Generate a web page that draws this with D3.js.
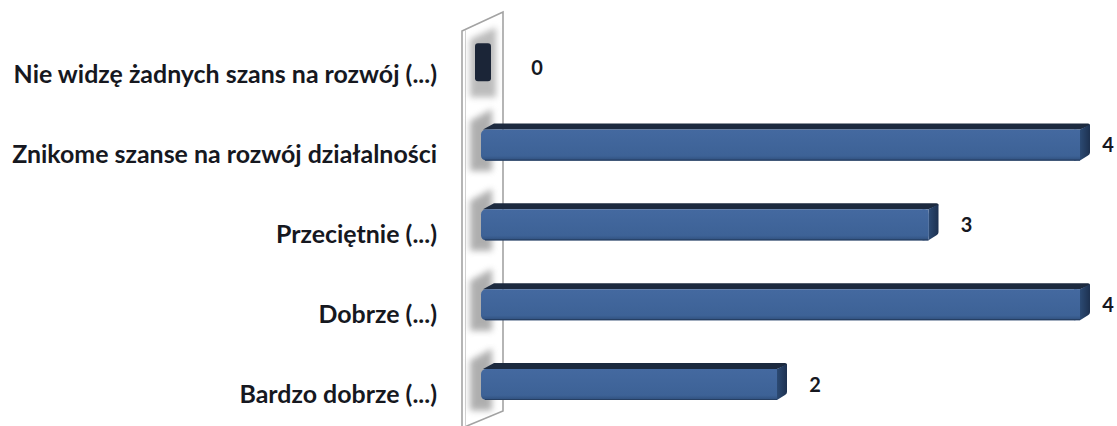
<!DOCTYPE html>
<html><head><meta charset="utf-8">
<script src="https://cdn.jsdelivr.net/npm/d3@7/dist/d3.min.js"></script>
<style>
html,body{margin:0;padding:0;background:#fff;}
svg{display:block;}
text{font-family:Lato,"Open Sans",sans-serif;font-weight:700;fill:#16181f;}
</style></head>
<body>
<svg id="chart" width="1117" height="426"></svg>
<script>
const categories = [
  "Nie widzę żadnych szans na rozwój (...)",
  "Znikome szanse na rozwój działalności",
  "Przeciętnie (...)",
  "Dobrze (...)",
  "Bardzo dobrze (...)"
];
const values = [0, 4, 3, 4, 2];
const valueLabels = ["0", "4", "3", "4", "2"];

const svg = d3.select("#chart");

const x = d3.scaleLinear().domain([0, 4]).range([474, 1080]);
const y = d3.scalePoint().domain(categories).range([65.2, 384.5]);

const defs = svg.append("defs");
defs.append("filter").attr("id", "blur").attr("x", "-100%").attr("y", "-50%")
  .attr("width", "300%").attr("height", "200%")
  .append("feGaussianBlur").attr("stdDeviation", 3);
const sideGrad = defs.append("linearGradient").attr("id", "side")
  .attr("x1", 0).attr("y1", 0).attr("x2", 1).attr("y2", 0);
sideGrad.append("stop").attr("offset", "0%").attr("stop-color", "#2c4a73");
sideGrad.append("stop").attr("offset", "100%").attr("stop-color", "#1d3150");
const frontGrad = defs.append("linearGradient").attr("id", "front")
  .attr("x1", 0).attr("y1", 0).attr("x2", 0).attr("y2", 1);
frontGrad.append("stop").attr("offset", "0%").attr("stop-color", "#4469a0");
frontGrad.append("stop").attr("offset", "85%").attr("stop-color", "#3d6296");
frontGrad.append("stop").attr("offset", "100%").attr("stop-color", "#2f4f7c");

// Wall (thin 3D back panel)
const wall = svg.append("g");
wall.append("polygon")
  .attr("points", "462,31 503,12 503,411 462,428")
  .attr("fill", "#ffffff").attr("stroke", "#a3a3a3").attr("stroke-width", 1.6);
wall.append("line").attr("x1", 465.5).attr("y1", 30).attr("x2", 465.5).attr("y2", 428)
  .attr("stroke", "#d0d0d0").attr("stroke-width", 1);

// Shadows on the wall
categories.forEach((c, i) => {
  const yc = y(c);
  const zero = values[i] === 0;
  const l = 470, r = zero ? 496 : 492;
  const top = zero ? yc - 38 : yc - 36;
  const bot = zero ? yc + 32 : yc + 26;
  svg.append("polygon")
    .attr("points", `${l},${top + 12} ${r},${top} ${r},${bot} ${l},${bot}`)
    .attr("fill", "#7a7a7a").attr("opacity", zero ? 0.5 : 0.6)
    .attr("filter", "url(#blur)");
});

const FH = 15.5, DX = 10, DY = 6;
const bars = svg.append("g");
categories.forEach((c, i) => {
  const v = values[i];
  const yc = y(c);
  const x0 = x(0) + 7;
  const x1 = x(v);
  if (v === 0) {
    bars.append("rect")
      .attr("x", x(0) + 1).attr("y", yc - 22).attr("width", 16).attr("height", 38)
      .attr("rx", 3).attr("fill", "#1b2537");
    return;
  }
  // top face
  bars.append("path")
    .attr("d", `M${x0 + 2},${yc - FH} L${x0 + DX + 3},${yc - FH - DY} L${x1 + DX - 2},${yc - FH - DY} Q${x1 + DX},${yc - FH - DY} ${x1 + DX},${yc - FH - DY + 2} L${x1},${yc - FH} Z`)
    .attr("fill", "#1c2a3f");
  // side face
  bars.append("path")
    .attr("d", `M${x1},${yc - FH} L${x1 + DX},${yc - FH - DY + 1} L${x1 + DX},${yc + FH - DY - 2} Q${x1 + DX},${yc + FH - DY} ${x1 + DX - 2},${yc + FH - DY + 1} L${x1},${yc + FH} Z`)
    .attr("fill", "url(#side)");
  // front face
  bars.append("rect")
    .attr("x", x0).attr("y", yc - FH).attr("width", x1 - x0).attr("height", FH * 2)
    .attr("rx", 5).attr("fill", "url(#front)");
  bars.append("rect")
    .attr("x", x1 - 6).attr("y", yc - FH).attr("width", 6).attr("height", FH * 2)
    .attr("fill", "url(#front)");
  bars.append("line")
    .attr("x1", x0 + 4).attr("x2", x1).attr("y1", yc + FH - 0.5).attr("y2", yc + FH - 0.5)
    .attr("stroke", "#263f63").attr("stroke-width", 1.2);
});

// Category labels
const fontSize = 20;
const catTexts = svg.append("g").selectAll("text").data(categories).join("text")
  .attr("x", 437).attr("y", d => y(d) + 18)
  .attr("text-anchor", "end")
  .style("font-size", fontSize + "px")
  .text(d => d);
let maxW = 0;
catTexts.each(function () { maxW = Math.max(maxW, this.getComputedTextLength()); });
const fs = fontSize * 425 / maxW;
catTexts.style("font-size", fs.toFixed(2) + "px");

// Value labels
svg.append("g").selectAll("text").data(values).join("text")
  .attr("x", d => d === 0 ? 537 : Math.min(x(d) + DX + 28, 1108))
  .attr("y", (d, i) => y(categories[i]) + (d === 0 ? 10 : 7))
  .attr("text-anchor", "middle")
  .style("font-size", "20px")
  .text((d, i) => valueLabels[i]);
</script>
</body></html>
